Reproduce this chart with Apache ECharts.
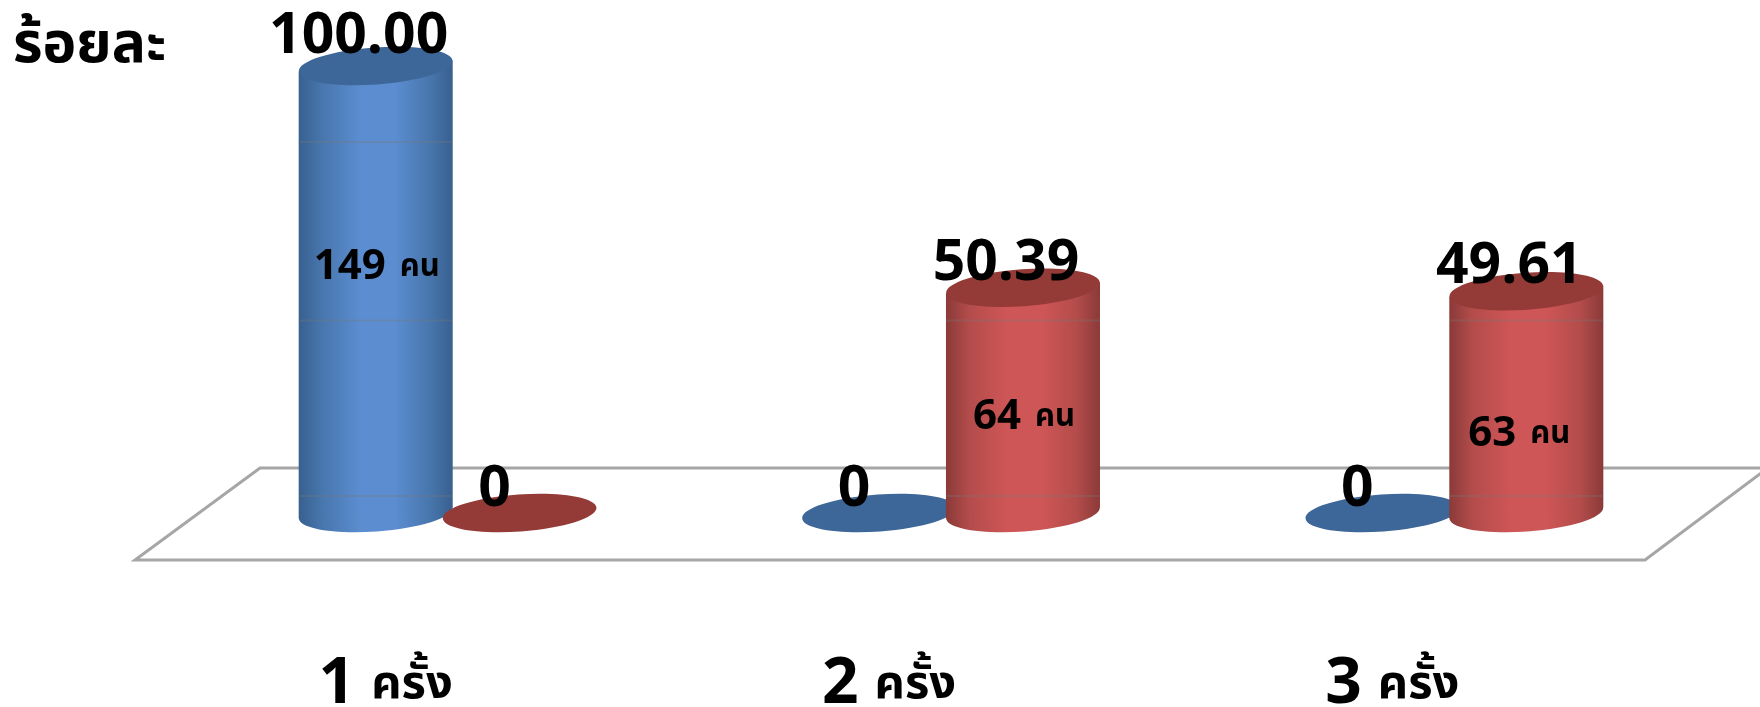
<!DOCTYPE html>
<html>
<head>
<meta charset="utf-8">
<style>html,body{margin:0;padding:0;background:#fff}#c{width:1760px;height:707px}</style>
<script src="https://cdn.jsdelivr.net/npm/echarts@6/dist/echarts.min.js"></script>
</head>
<body>
<div id="c"></div>
<script>
const categories = ['1 ครั้ง', '2 ครั้ง', '3 ครั้ง'];
const seriesA = [100.00, 0, 0];
const seriesB = [0, 50.39, 49.61];
const peopleA = ['149', '', ''];
const peopleB = ['', '64', '63'];
const unitLabel = 'คน';
const axisTitle = 'ร้อยละ';
const bandLines = [83.2, 43.3, 4.0];
const countLabelHeights = [55.0, 21.5, 17.7];

const FONT = '"Open Sans","Noto Sans","Noto Sans Thai",Tahoma,sans-serif';
const TILT = 0.07;

function makeRender(opts) {
  return function (params, api) {
    const i = params.dataIndex;
    const val = api.value(1);
    const base = api.coord([i, 0]);
    const top = api.coord([i, val]);
    const band = api.size([1, 0])[0];
    const cx = base[0] + opts.side * band * 0.143;
    const rx = band * 0.153;
    const ry = 18.5;
    const dy = rx * Math.tan(TILT);
    const ellipse = (y, fill, z) => ({
      type: 'ellipse', z2: z,
      shape: { cx: cx, cy: y, rx: rx, ry: ry },
      originX: cx, originY: y, rotation: TILT,
      style: { fill: fill }
    });
    const grad = {
      type: 'linear', x: 0, y: 0, x2: 1, y2: 0,
      colorStops: [
        { offset: 0, color: opts.edge },
        { offset: 0.15, color: opts.mid },
        { offset: 0.4, color: opts.light },
        { offset: 0.62, color: opts.light },
        { offset: 0.85, color: opts.mid },
        { offset: 1, color: opts.edge }
      ]
    };
    const children = [];
    if (val > 0) {
      children.push(ellipse(base[1], grad, 1));
      children.push({
        type: 'polygon', z2: 1,
        shape: { points: [[cx - rx, top[1] + dy], [cx + rx, top[1] - dy], [cx + rx, base[1] - dy], [cx - rx, base[1] + dy]] },
        style: { fill: grad }
      });
      bandLines.forEach(v => {
        const y = api.coord([i, v])[1];
        if (v < val) {
          children.push({
            type: 'rect', z2: 2,
            shape: { x: cx - rx, y: y, width: rx * 2, height: 2 },
            style: { fill: 'rgba(120,120,120,0.30)' }
          });
        }
      });
    }
    children.push(ellipse(top[1], opts.cap, 3));
    const isZero = val === 0;
    const lift = isZero ? 23 : (val === 100 ? 29 : 24);
    children.push({
      type: 'text', z2: 6,
      style: {
        x: cx + (isZero ? -25 : -17), y: top[1] - lift,
        text: isZero ? '0' : val.toFixed(2),
        font: 'bold 57px ' + FONT, fill: '#000', align: 'center', verticalAlign: 'middle'
      }
    });
    const people = opts.people[i];
    if (people) {
      const y = api.coord([i, countLabelHeights[i]])[1];
      children.push({
        type: 'text', z2: 6,
        style: {
          x: cx + (i === 2 ? -7 : 1), y: y,
          text: '{n|' + people + '}{u|' + unitLabel + '}',
          align: 'center', verticalAlign: 'middle', fill: '#000',
          rich: {
            n: { font: 'bold 42px ' + FONT, fill: '#000' },
            u: { font: 'bold 31px ' + FONT, fill: '#000', padding: [0, 0, 0, 14] }
          }
        }
      });
    }
    return { type: 'group', children: children };
  };
}

const chart = echarts.init(document.getElementById('c'), null, { renderer: 'canvas' });
chart.setOption({
  animation: false,
  backgroundColor: '#fff',
  grid: { left: 196, width: 1510, top: 66, bottom: 194, outerBoundsMode: 'none' },
  xAxis: {
    type: 'category', data: categories,
    axisLine: { show: false }, axisTick: { show: false }, splitLine: { show: false },
    axisLabel: {
      margin: 140, padding: [0, 124, 0, 0], interval: 0,
      formatter: v => { const p = v.split(' '); return '{n|' + p[0] + '}{t|' + p[1] + '}'; },
      rich: {
        n: { fontFamily: FONT, fontWeight: 'bold', fontSize: 64, color: '#000' },
        t: { fontFamily: FONT, fontWeight: 'bold', fontSize: 47, color: '#000', padding: [0, 0, 0, 16] }
      }
    }
  },
  yAxis: { type: 'value', min: 0, max: 100, show: false },
  graphic: [
    {
      type: 'polygon', z: -1, silent: true,
      shape: { points: [[260, 468], [1768, 468], [1645, 560], [135, 560]] },
      style: { fill: '#fff', stroke: '#a6a6a6', lineWidth: 3 }
    },
    {
      type: 'text', left: 13, top: 17,
      style: { text: axisTitle, font: 'bold 57px ' + FONT, fill: '#000' }
    }
  ],
  series: [
    {
      type: 'custom', name: 'A', coordinateSystem: 'cartesian2d', clip: false,
      encode: { x: 0, y: 1 },
      data: seriesA.map((v, i) => [i, v]),
      renderItem: makeRender({ side: -1, edge: '#38608f', mid: '#4876ad', light: '#5b8dd0', cap: '#3d6798', people: peopleA }),
      z: 2
    },
    {
      type: 'custom', name: 'B', coordinateSystem: 'cartesian2d', clip: false,
      encode: { x: 0, y: 1 },
      data: seriesB.map((v, i) => [i, v]),
      renderItem: makeRender({ side: 1, edge: '#8a3a38', mid: '#b34c4b', light: '#cf5656', cap: '#943b38', people: peopleB }),
      z: 3
    }
  ]
});
</script>
</body>
</html>
